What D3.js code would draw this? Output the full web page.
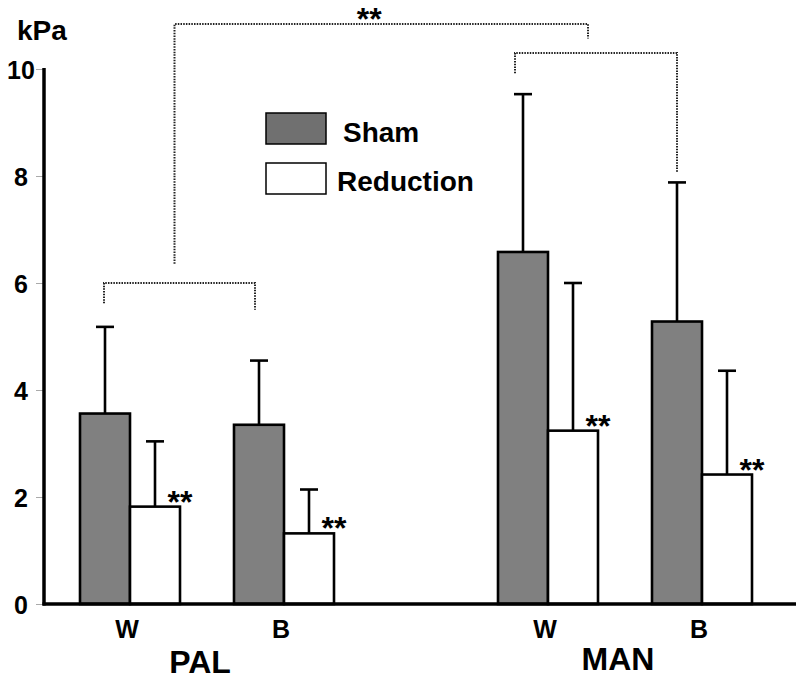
<!DOCTYPE html>
<html>
<head>
<meta charset="utf-8">
<script src="https://cdn.jsdelivr.net/npm/d3@7"></script>
<style>
  html, body { margin: 0; padding: 0; background: #fff; }
  svg { display: block; }
  text { font-family: "Liberation Sans", Arial, Helvetica, sans-serif; font-weight: bold; fill: #000; }
</style>
</head>
<body>
<svg id="chart" width="800" height="680"></svg>
<script>
// ---------- data ----------
const sites = ["PAL", "MAN"];
const subgroups = ["W", "B"];
const seriesNames = ["Sham", "Reduction"];
// order: PAL-W, PAL-B, MAN-W, MAN-B
const shamMean = [3.56, 3.35, 6.58, 5.28];
const shamSD = [1.62, 1.20, 2.95, 2.60];
const reductionMean = [1.82, 1.32, 3.24, 2.42];
const reductionSD = [1.22, 0.82, 2.76, 1.94];
const reductionMarks = ["**", "**", "**", "**"];
const yTicks = [0, 2, 4, 6, 8, 10];
const yUnit = "kPa";
const topMark = "**";

// ---------- layout ----------
const svg = d3.select("#chart");
const y = d3.scaleLinear().domain([0, 10]).range([604, 69]);
const xSite = d3.scalePoint().domain(sites).range([207, 625]);
const xSub = d3.scalePoint().domain(subgroups).range([-77, 77]);
const xSeries = d3.scaleBand().domain(seriesNames).range([-50, 50]);
const color = d3.scaleOrdinal().domain(seriesNames).range(["#808080", "#ffffff"]);

const rows = [];
sites.forEach((s, i) => subgroups.forEach((g, j) => {
  const k = i * subgroups.length + j;
  rows.push({site: s, sub: g, series: "Sham", mean: shamMean[k], sd: shamSD[k], mark: null});
  rows.push({site: s, sub: g, series: "Reduction", mean: reductionMean[k], sd: reductionSD[k], mark: reductionMarks[k]});
}));
const gx = d => xSite(d.site) + xSub(d.sub);
const bx = d => gx(d) + xSeries(d.series);
const bw = xSeries.bandwidth();

// ---------- y axis ticks ----------
const axis = d3.axisLeft(y).tickValues(yTicks).tickSize(8).tickFormat(d3.format("d"));
const ag = svg.append("g").attr("transform", "translate(44,0)").call(axis);
ag.select(".domain").remove();
ag.selectAll(".tick line").attr("stroke", "#aaa").attr("stroke-width", 1);
ag.selectAll(".tick text")
  .attr("x", -23).attr("dy", "0.36em")
  .attr("text-anchor", "middle")
  .style("font-size", "25px").style("font-family", '"Liberation Sans", Arial, sans-serif').style("font-weight", "bold")
  .attr("fill", "#000");

svg.append("text").attr("x", 17).attr("y", 40).style("font-size", "28px").text(yUnit);

// ---------- error bars ----------
const eb = svg.append("g").attr("stroke", "#000").attr("stroke-width", 2.6);
rows.forEach(d => {
  const cx = bx(d) + bw / 2;
  eb.append("line").attr("x1", cx).attr("x2", cx).attr("y1", y(d.mean)).attr("y2", y(d.mean + d.sd));
  eb.append("line").attr("x1", cx - 9).attr("x2", cx + 9).attr("y1", y(d.mean + d.sd)).attr("y2", y(d.mean + d.sd));
});

// ---------- bars ----------
svg.append("g").selectAll("rect").data(rows).join("rect")
  .attr("x", d => bx(d)).attr("y", d => y(d.mean))
  .attr("width", bw).attr("height", d => y(0) - y(d.mean))
  .attr("fill", d => color(d.series))
  .attr("stroke", "#000").attr("stroke-width", 2.6);

// significance marks on reduction bars
svg.append("g").selectAll("text").data(rows.filter(d => d.mark)).join("text")
  .attr("x", d => bx(d) + bw).attr("y", d => y(d.mean) + 6)
  .attr("text-anchor", "middle").style("font-size", "32px").text(d => d.mark);

// ---------- axes lines ----------
svg.append("line").attr("x1", 44).attr("x2", 44).attr("y1", y(10) - 1).attr("y2", y(0) + 1.5)
  .attr("stroke", "#000").attr("stroke-width", 3.5);
svg.append("line").attr("x1", 42.5).attr("x2", 796).attr("y1", y(0)).attr("y2", y(0))
  .attr("stroke", "#000").attr("stroke-width", 3.5);

// ---------- x labels ----------
sites.forEach(s => subgroups.forEach(g => {
  svg.append("text").attr("x", xSite(s) + xSub(g) - 3).attr("y", 638)
    .attr("text-anchor", "middle").style("font-size", "25px").text(g);
}));
svg.append("g").selectAll("text").data(sites).join("text")
  .attr("x", d => xSite(d) - 7).attr("y", (d, i) => i === 0 ? 673 : 670)
  .attr("text-anchor", "middle").style("font-size", "32px").text(d => d);

// ---------- legend ----------
const lg = svg.append("g");
seriesNames.forEach((s, i) => {
  lg.append("rect").attr("x", 266).attr("y", 113 + i * 50).attr("width", 60).attr("height", 31)
    .attr("fill", i === 0 ? "#707070" : "#fff").attr("stroke", "#000").attr("stroke-width", 1.5);
  lg.append("text").attr("x", i === 0 ? 343 : 337).attr("y", 142 + i * 49)
    .style("font-size", "28px").text(s);
});

// ---------- comparison brackets ----------
const dot = {stroke: "#222", "stroke-width": 2, "stroke-dasharray": "1.5,1.2", fill: "none"};
function bracket(x1, x2, yTop, yL, yR) {
  const p = svg.append("path").attr("d", `M${x1},${yL}V${yTop}H${x2}V${yR}`);
  Object.entries(dot).forEach(([k, v]) => p.attr(k, v));
}
const shamCenter = (s, g) => xSite(s) + xSub(g) + xSeries("Sham") + bw / 2;
const palL = shamCenter("PAL", "W") - 1, palR = shamCenter("PAL", "B") - 4;
const manL = shamCenter("MAN", "W") - 8, manR = shamCenter("MAN", "B");
bracket(palL, palR, y(6.0), y(5.62), y(5.5));
bracket(manL, manR, y(10.3), y(9.92), y(8.07));
const topL = (palL + palR) / 2 - 5, topR = (manL + manR) / 2 - 8;
bracket(topL, topR, y(10.84), y(6.36), y(10.57));
svg.append("text").attr("x", (topL + topR) / 2 - 12).attr("y", 30)
  .attr("text-anchor", "middle").style("font-size", "32px").text(topMark);
</script>
</body>
</html>
